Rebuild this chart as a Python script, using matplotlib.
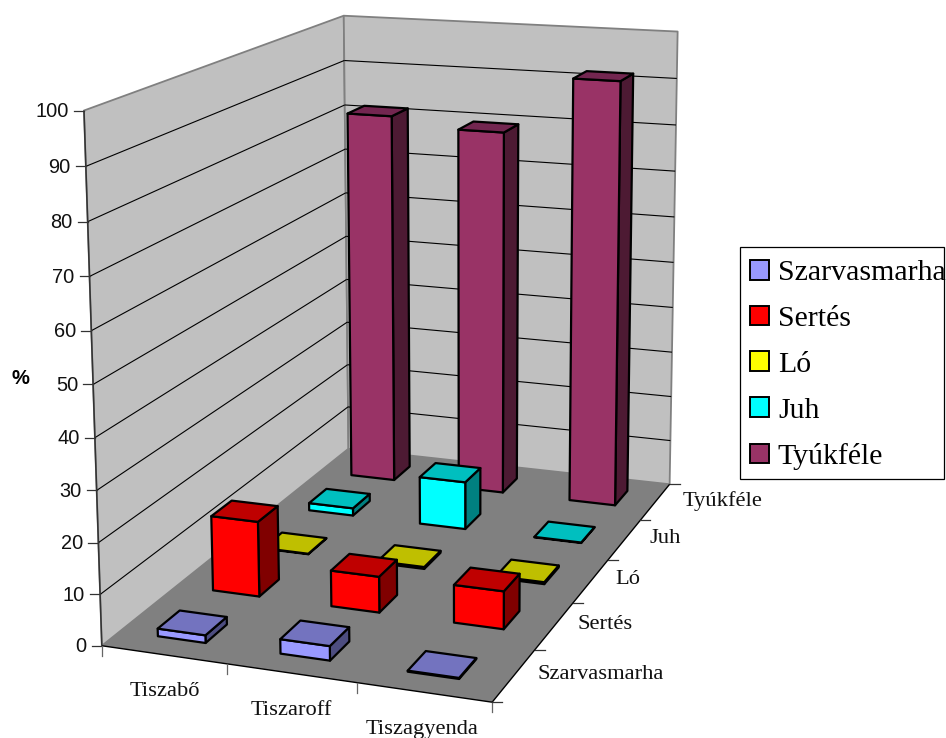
import numpy as np
import matplotlib
matplotlib.use('Agg')
import matplotlib.pyplot as plt
from matplotlib.patches import Polygon, Patch, Rectangle

# share of each animal group per settlement, in %
towns = ['Tiszabő', 'Tiszaroff', 'Tiszagyenda']
animals = ['Szarvasmarha', 'Sertés', 'Ló', 'Juh', 'Tyúkféle']
szarvasmarha = [1.5, 2.8, 0.2]
sertes = [15.2, 7.2, 7.5]
lo = [0.1, 0.4, 0.4]
juh = [1.6, 10.2, 0.1]
tyukfele = [81.5, 79.5, 91.8]
series = [szarvasmarha, sertes, lo, juh, tyukfele]

# front, top and side shades per series
front = ['#9999FF', '#FF0000', '#FFFF00', '#00FFFF', '#993366']
top = ['#7373BF', '#BF0000', '#BFBF00', '#00BFBF', '#732650']
side = ['#4D4D80', '#800000', '#808000', '#008080', '#4D1A33']
value_ticks = list(range(0, 101, 10))

# known plot box points (town pos, series pos, value) -> canvas pixel
box_world = np.array([(0, 0, 0), (3, 0, 0), (3, 5, 0), (0, 5, 0), (0, 0, 100),
                      (0, 5, 100), (3, 5, 100), (0, 0, 50), (1, 0, 0), (2, 0, 0),
                      (3, 1, 0), (3, 2, 0), (3, 3, 0), (3, 4, 0),
                      (0, 5, 90), (0, 5, 80), (3, 5, 90), (3, 5, 80),
                      (0, 0, 90), (0, 0, 80), (0, 0, 10), (0, 0, 20)], float)
box_pixel = np.array([(101.7, 645), (488, 701.7), (666.7, 485), (349, 450), (84, 111),
                      (344, 15), (678, 31), (93.7, 386), (225.7, 664), (354, 682.7),
                      (540, 649), (578, 603), (613, 559), (636.7, 521),
                      (345, 59), (345, 105), (676, 79), (675, 125),
                      (85.7, 167), (87.5, 223), (100, 593), (98, 542)], float)


def fit_camera(world, pixel):
    rows, rhs = [], []
    for (x, y, z), (u, v) in zip(world, pixel):
        rows.append([x, y, z, 1, 0, 0, 0, 0, -u * x, -u * y, -u * z])
        rows.append([0, 0, 0, 0, x, y, z, 1, -v * x, -v * y, -v * z])
        rhs += [u, v]
    p = np.linalg.lstsq(np.array(rows), np.array(rhs), rcond=None)[0]
    return np.append(p, 1).reshape(3, 4)


cam = fit_camera(box_world, box_pixel)


def proj(x, y, z):
    u, v, w = cam @ np.array([x, y, z, 1.0])
    return u / w, v / w


def quad(ax, pts, color, edge='none', lw=0, z=1):
    ax.add_patch(Polygon([proj(*p) for p in pts], closed=True, facecolor=color,
                         edgecolor=edge, linewidth=lw, joinstyle='round', zorder=z))


def line3(ax, a, b, color='black', lw=0.8, z=2):
    pa, pb = proj(*a), proj(*b)
    ax.plot([pa[0], pb[0]], [pa[1], pb[1]], color=color, lw=lw, zorder=z,
            solid_capstyle='butt')


fig = plt.figure(figsize=(9.46, 7.38), dpi=100)
ax = fig.add_axes([0, 0, 1, 1])
ax.set_xlim(0, 946)
ax.set_ylim(738, 0)
ax.axis('off')

# walls and floor
quad(ax, [(0, 0, 0), (0, 5, 0), (0, 5, 100), (0, 0, 100)], '#C0C0C0', '#808080', 1.3)
quad(ax, [(0, 5, 0), (3, 5, 0), (3, 5, 100), (0, 5, 100)], '#C0C0C0', '#808080', 1.3)
quad(ax, [(0, 0, 0), (3, 0, 0), (3, 5, 0), (0, 5, 0)], '#808080')

for v in value_ticks[1:-1]:
    line3(ax, (0, 0, v), (0, 5, v))
    line3(ax, (0, 5, v), (3, 5, v))

# axis lines and ticks
line3(ax, (0, 0, 0), (0, 0, 100), '#333333', 1.1)
line3(ax, (0, 0, 0), (3, 0, 0), 'black', 1.0)
line3(ax, (3, 0, 0), (3, 5, 0), 'black', 1.0)
for v in value_ticks:
    u0, v0 = proj(0, 0, v)
    ax.plot([u0 - 10, u0], [v0, v0], color='#333333', lw=0.9, zorder=2)
    ax.text(u0 - 15, v0 + 1, str(v), ha='right', va='center', fontsize=14.4,
            family='Liberation Sans', color='#111111')
for i in range(4):
    u0, v0 = proj(i, 0, 0)
    ax.plot([u0, u0], [v0, v0 + 10], color='#666666', lw=0.9, zorder=2)
for j in range(6):
    u0, v0 = proj(3, j, 0)
    ax.plot([u0, u0 + 10], [v0, v0], color='#333333', lw=0.9, zorder=2)
ax.text(20, 378, '%', ha='center', va='center', fontsize=14.5, fontweight='bold',
        family='Liberation Sans')

for i, name in enumerate(towns):
    u0, v0 = proj(i + 0.5, 0, 0)
    ax.text(u0 + 1 - 1.5 * i, v0 + 37, name, ha='center', va='center', fontsize=16.2,
            family='Liberation Serif', color='#111111')
label_dx = [24, 23, 24, 25, 27]
for j, name in enumerate(animals):
    u0, v0 = proj(3, j + 0.5, 0)
    ax.text(u0 + label_dx[j], v0 - 1, name, ha='left', va='center', fontsize=16.2,
            family='Liberation Serif', color='#111111')

# bars, back row first; gap width 150 gives about 0.4 of a cell
order = 10
for j in range(len(animals) - 1, -1, -1):
    half = 0.193 + 0.002 * j
    for i in range(len(towns)):
        val = series[j][i]
        cx = i + 0.5 - 0.019 * i * (1 - j / 4)
        x0, x1 = cx - half, cx + half
        y0, y1 = j + 0.5 - half, j + 0.5 + half
        quad(ax, [(x1, y0, 0), (x1, y1, 0), (x1, y1, val), (x1, y0, val)],
             side[j], 'black', 1.6, order)
        quad(ax, [(x0, y0, 0), (x1, y0, 0), (x1, y0, val), (x0, y0, val)],
             front[j], 'black', 1.6, order + 1)
        quad(ax, [(x0, y0, val), (x1, y0, val), (x1, y1, val), (x0, y1, val)],
             top[j], 'black', 1.6, order + 2)
        order += 3

# legend box is drawn apart, the long label nearly fills it
ax.add_patch(Rectangle((740, 247), 204, 232, facecolor='white', edgecolor='black',
                       linewidth=0.9, zorder=150))
handles = [Patch(facecolor=c, edgecolor='black', linewidth=1.4) for c in front]
leg = ax.legend(handles, animals, loc='upper left', bbox_to_anchor=(750, 260),
                bbox_transform=ax.transData, borderaxespad=0,
                prop={'family': 'Liberation Serif', 'size': 21.5},
                frameon=False, handlelength=0.635, handleheight=0.635,
                handletextpad=0.3, labelspacing=0.65, borderpad=0)
leg.set_zorder(200)

fig.savefig('out.png', dpi=100)
